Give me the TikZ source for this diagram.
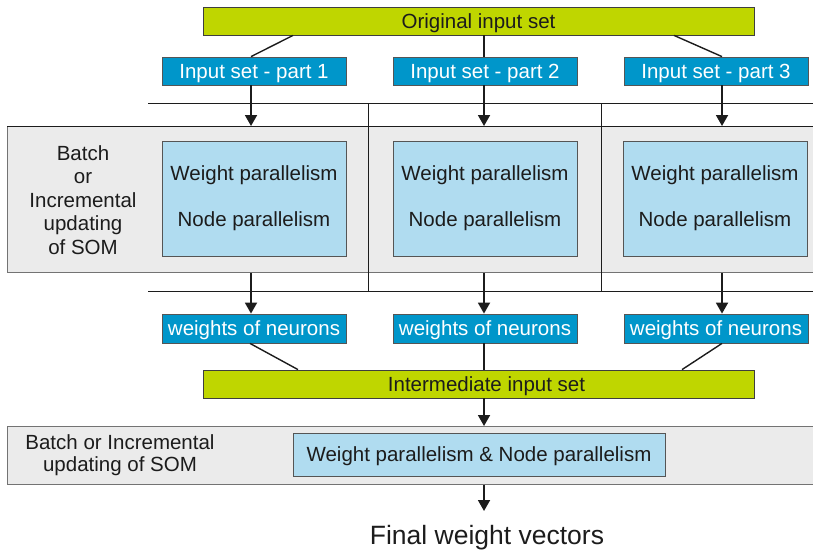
\documentclass[tikz,border=0pt]{standalone}
\usepackage{fontspec}
\setmainfont{Liberation Sans}
\usetikzlibrary{arrows.meta}

\definecolor{barGreen}{RGB}{191,214,0}
\definecolor{partBlue}{RGB}{0,150,202}
\definecolor{paleBlue}{RGB}{176,220,240}
\definecolor{bandGray}{RGB}{235,235,235}
\definecolor{edgeGray}{RGB}{115,115,115}
\definecolor{inkDark}{RGB}{28,28,28}

\newcommand{\boxfont}{\fontsize{20.5}{24}\selectfont}

\tikzset{
  capcentred/.style={text height=14.7pt, text depth=0pt},
  bar/.style={draw=inkDark!85, line width=0.8pt, fill=barGreen, text=inkDark,
    minimum width=551pt, minimum height=28pt, inner sep=0pt, font=\boxfont,
    capcentred},
  part/.style={draw=inkDark!75, line width=0.8pt, fill=partBlue, text=white,
    minimum width=184pt, minimum height=28pt, inner sep=0pt, font=\boxfont,
    capcentred},
  work/.style={draw=inkDark!75, line width=0.8pt, fill=paleBlue, text=inkDark,
    minimum width=184pt, minimum height=115pt, inner sep=0pt, align=center,
    font=\fontsize{20.5}{25}\selectfont},
  band/.style={draw=edgeGray, line width=1pt, fill=bandGray, anchor=north west,
    minimum width=830pt, inner sep=0pt},
  note/.style={text=inkDark, align=center, inner sep=0pt},
  link/.style={line width=1.4pt, draw=inkDark},
  flow/.style={line width=1.8pt, draw=inkDark, -{Triangle[width=12pt,length=11pt]}},
  rule/.style={line width=0.9pt, draw=inkDark},
}

\begin{document}
\begin{tikzpicture}[x=1pt,y=-1pt]
  \path[use as bounding box] (0,0) rectangle (813,550);
  \clip (0,0) rectangle (813,550);

  % column axes for the vertical flow
  \coordinate (c1) at (251,0);
  \coordinate (c2) at (484,0);
  \coordinate (c3) at (722,0);

  % first processing band with the three partitions
  \node[band, minimum height=146pt] (band1) at (7,126) {};
  \draw[rule] (band1.north west) -- (band1.north east);
  \draw[rule] (148,103) -- (813,103);
  \draw[rule] (148,291) -- (813,291);
  \draw[rule] (368,103) -- (368,291);
  \draw[rule] (601,103) -- (601,291);

  % input distribution
  \node[bar] (top) at (478.5,21) {Original input set};
  \node[part] (part1) at (254,71) {Input set - part 1};
  \node[part] (part2) at (485,71) {Input set - part 2};
  \node[part] (part3) at (716,71) {Input set - part 3};

  \draw[link] ([xshift=-185.5pt]top.south) -- ([xshift=-3pt]part1.north);
  \draw[link] ([xshift=5.5pt]top.south) -- ([xshift=-1pt]part2.north);
  \draw[link] ([xshift=195.5pt]top.south) -- ([xshift=6pt]part3.north);

  % parallel SOM training
  \node[note, font=\fontsize{20.5}{23.5}\selectfont] (mode1) at (83,200)
    {Batch\\or\\Incremental\\updating\\of SOM};
  \node[work] (work1) at (254,198.5) {Weight parallelism\\[21pt]Node parallelism};
  \node[work] (work2) at (485,198.5) {Weight parallelism\\[21pt]Node parallelism};
  \node[work] (work3) at (715,198.5) {Weight parallelism\\[21pt]Node parallelism};

  \draw[flow] (part1.south -| c1) -- (band1.north -| c1);
  \draw[flow] (part2.south -| c2) -- (band1.north -| c2);
  \draw[flow] (part3.south -| c3) -- (band1.north -| c3);

  % partial results
  \node[part, minimum height=29pt] (wt1) at (254,328.5) {weights of neurons};
  \node[part, minimum height=29pt] (wt2) at (485,328.5) {weights of neurons};
  \node[part, minimum height=29pt] (wt3) at (716,328.5) {weights of neurons};

  \draw[flow] (band1.south -| c1) -- (wt1.north -| c1);
  \draw[flow] (band1.south -| c2) -- (wt2.north -| c2);
  \draw[flow] (band1.south -| c3) -- (wt3.north -| c3);

  % merged set
  \node[bar] (mid) at (478.5,384) {\hspace{16pt}Intermediate input set};
  \draw[link] ([xshift=-4pt]wt1.south) -- ([xshift=-180.5pt]mid.north);
  \draw[link] (wt2.south -| c2) -- (mid.north -| c2);
  \draw[link] ([xshift=6pt]wt3.south) -- ([xshift=203.5pt]mid.north);

  % final training pass
  \node[band, minimum height=58pt] (band2) at (7,426) {};
  \node[note, font=\fontsize{20.5}{22}\selectfont] (mode2) at (120,455)
    {Batch or Incremental\\updating of SOM};
  \node[work, minimum width=372pt, minimum height=43pt, capcentred] (work4)
    at (479,454.5) {Weight parallelism \& Node parallelism};

  \draw[flow] (mid.south -| c2) -- (band2.north -| c2);

  \coordinate (finaltip) at (484,511);
  \draw[flow] (band2.south -| c2) -- (finaltip);
  \node[note, font=\fontsize{26.5}{30}\selectfont] (final) at (487,538)
    {Final weight vectors};
\end{tikzpicture}
\end{document}
